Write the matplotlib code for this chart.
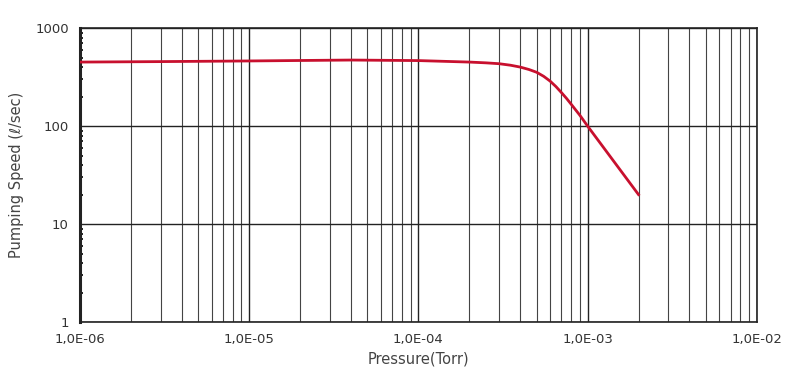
import numpy as np
import matplotlib.pyplot as plt
from matplotlib.ticker import LogLocator, FixedLocator, NullFormatter

# pumping speed curve
pressure = [1e-6, 3e-6, 1e-5, 4e-5, 1e-4, 2e-4, 2.5e-4, 3e-4, 3.5e-4, 4e-4, 4.5e-4, 5e-4, 5.5e-4,
            6e-4, 6.5e-4, 7e-4, 7.5e-4, 8e-4, 9e-4, 1e-3, 1.5e-3, 2e-3]
speed = [450, 455, 462, 472, 466, 450, 442, 433, 418, 400, 378, 354, 322,
         288, 253, 220, 192, 167, 129, 100, 39, 20]

x_ticks = [1e-6, 1e-5, 1e-4, 1e-3, 1e-2]
x_labels = ['1,0E-06', '1,0E-05', '1,0E-04', '1,0E-03', '1,0E-02']
y_ticks = [1, 10, 100, 1000]
y_labels = ['1', '10', '100', '1000']

plt.rcParams['font.family'] = ['DejaVu Sans']
fig = plt.figure(figsize=(8, 3.9), dpi=100)
ax = fig.add_axes([0.1, 0.174, 0.846, 0.754])

ax.set_xscale('log')
ax.set_yscale('log')
ax.set_xlim(1e-6, 1e-2)
ax.set_ylim(1, 1000)

ax.xaxis.set_major_locator(FixedLocator(x_ticks))
ax.set_xticklabels(x_labels)
ax.xaxis.set_minor_locator(LogLocator(base=10, subs=np.arange(2, 10), numticks=20))
ax.xaxis.set_minor_formatter(NullFormatter())
ax.yaxis.set_major_locator(FixedLocator(y_ticks))
ax.set_yticklabels(y_labels)
ax.yaxis.set_minor_locator(LogLocator(base=10, subs=np.arange(2, 10), numticks=20))
ax.yaxis.set_minor_formatter(NullFormatter())

ax.grid(True, which='major', axis='both', color='#222222', linewidth=1.0)
ax.grid(True, which='minor', axis='x', color='#444444', linewidth=0.8)
ax.tick_params(which='both', axis='x', length=0, labelsize=9.5, colors='#333333', pad=8)
ax.tick_params(which='major', axis='y', length=0, labelsize=9.5, colors='#333333', pad=8)
ax.tick_params(which='minor', axis='y', length=2, direction='in', width=1.2)

for s in ax.spines.values():
    s.set_color('#222222')
    s.set_linewidth(1.2)
ax.spines['left'].set_linewidth(2.2)

ax.plot(pressure, speed, color='#c8102e', linewidth=2.0, zorder=3)

ax.set_xlabel('Pressure(Torr)', fontsize=10.5, color='#444444', labelpad=4)
ax.set_ylabel('Pumping Speed (ℓ/sec)', fontsize=10.5, color='#444444', labelpad=8)

fig.savefig('out.png', dpi=100)
